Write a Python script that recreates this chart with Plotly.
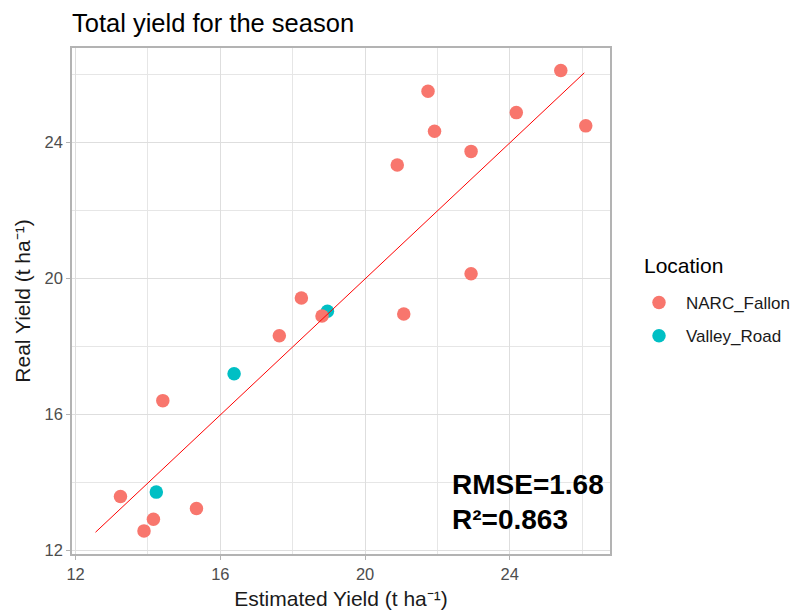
import plotly.graph_objects as go

# ---- data ----
narc_est = [13.24, 13.89, 14.15, 14.41, 15.34, 17.63, 18.24, 18.81, 20.89, 21.07,
            21.74, 21.92, 22.93, 22.93, 24.18, 25.41, 26.10]
narc_real = [13.59, 12.58, 12.92, 16.41, 13.24, 18.32, 19.43, 18.90, 23.34, 18.96,
             25.51, 24.33, 23.74, 20.14, 24.88, 26.12, 24.49]
valley_est = [14.23, 16.38, 18.96]
valley_real = [13.72, 17.20, 19.04]
fit_x = [12.55, 26.06]
fit_y = [12.54, 26.05]
tick_vals = [12, 16, 20, 24]
minor_vals = [14, 18, 22, 26]
rmse_text = "RMSE=1.68"
r2_text = "R²=0.863"

FONT = "Liberation Sans, Arial, sans-serif"

fig = go.Figure()
fig.add_trace(go.Scatter(x=valley_est, y=valley_real, mode="markers", name="Valley_Road",
                         marker=dict(color="#00BFC4", size=13.5), legendrank=2,
                         legendgroup="b"))
fig.add_trace(go.Scatter(x=narc_est, y=narc_real, mode="markers", name="NARC_Fallon",
                         marker=dict(color="#F8766D", size=13.5), legendrank=1,
                         legendgroup="a"))
fig.add_trace(go.Scatter(x=fit_x, y=fit_y, mode="lines", showlegend=False,
                         line=dict(color="#FF0000", width=1)))

axis_common = dict(
    tickvals=tick_vals,
    showgrid=True, gridcolor="#DEDEDE", gridwidth=1.2,
    minor=dict(tickvals=minor_vals, showgrid=True, gridcolor="#E6E6E6", gridwidth=0.8, ticks=""),
    showline=True, linecolor="#B3B3B3", linewidth=1.5, mirror=True,
    ticks="outside", ticklen=4, tickcolor="#B3B3B3", tickwidth=1,
    tickfont=dict(family=FONT, size=16.5, color="#4D4D4D"),
    zeroline=False, automargin=False,
)

fig.update_layout(
    width=790, height=610,
    margin=dict(l=72, r=180, t=48, b=56, autoexpand=False),
    paper_bgcolor="white", plot_bgcolor="white",
    title=dict(text="Total yield for the season", x=72/790, xanchor="left",
               y=1 - 23/610, yanchor="middle",
               font=dict(family=FONT, size=25.5, color="black")),
    xaxis=dict(range=[11.90, 26.77],
               title=dict(text="Estimated Yield (t ha⁻¹)", standoff=12,
                          font=dict(family=FONT, size=21, color="#1A1A1A")),
               **axis_common),
    yaxis=dict(range=[11.90, 26.78],
               title=dict(text="Real Yield (t ha⁻¹)", standoff=8,
                          font=dict(family=FONT, size=21, color="#1A1A1A")),
               **axis_common),
    legend=dict(x=(632 - 72) / 538, xanchor="left", y=(554 - 319.5) / 506, yanchor="middle",
                font=dict(family=FONT, size=17, color="#1A1A1A"),
                tracegroupgap=8, traceorder="grouped", itemwidth=44),
    showlegend=True,
)

# legend title as text
fig.add_annotation(x=(642 - 72) / 538, y=(554 - 265) / 506, xref="paper", yref="paper",
                   text="Location", showarrow=False, xanchor="left", yanchor="middle",
                   font=dict(family=FONT, size=21, color="black"))

fig.add_annotation(x=22.34, y=13.95, xref="x", yref="y", text=rmse_text, showarrow=False,
                   xanchor="left", yanchor="middle",
                   font=dict(family=FONT, size=28, color="black", weight="bold"))
fig.add_annotation(x=22.34, y=12.92, xref="x", yref="y", text=r2_text, showarrow=False,
                   xanchor="left", yanchor="middle",
                   font=dict(family=FONT, size=28, color="black", weight="bold"))

fig.write_html("out.html")
